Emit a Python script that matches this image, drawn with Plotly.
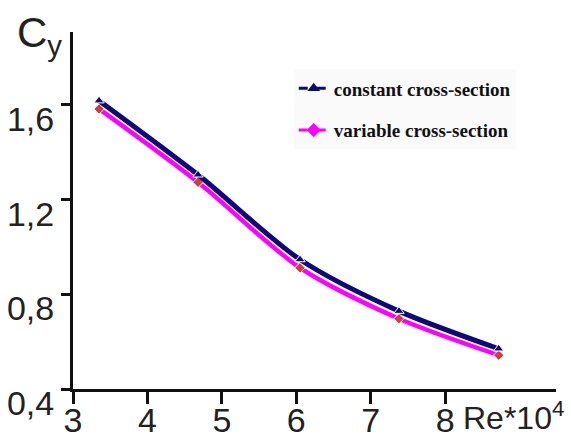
import plotly.graph_objects as go

re_values = [3.35, 4.68, 6.05, 7.38, 8.72]
cy_constant = [1.618, 1.305, 0.947, 0.729, 0.570]
cy_variable = [1.583, 1.273, 0.912, 0.697, 0.543]
x_tick_vals = [3, 4, 5, 6, 7, 8]
x_tick_text = ["3", "4", "5", "6", "7", "8"]
y_tick_vals = [0.4, 0.8, 1.2, 1.6]
y_tick_text = ["0,4", "0,8", "1,2", "1,6"]
series_names = ["constant cross-section", "variable cross-section"]

NAVY = "#0a0a78"
MAGENTA = "#ff00ff"
X_RANGE = [3, 9.49]

fig = go.Figure()

# data traces
fig.add_trace(go.Scatter(
    x=re_values, y=cy_variable, mode="lines+markers", showlegend=False,
    line=dict(color=MAGENTA, width=4.5, shape="spline", smoothing=0.8),
    marker=dict(symbol="diamond", size=8, color="#d83a3a",
                line=dict(color="white", width=1)),
))
fig.add_trace(go.Scatter(
    x=re_values, y=cy_constant, mode="lines+markers", showlegend=False,
    line=dict(color=NAVY, width=5, shape="spline", smoothing=0.8),
    marker=dict(symbol="triangle-up", size=9, color=NAVY,
                line=dict(color="white", width=1)),
))

# legend entries (dashed style as in the reference legend); placed on the
# label-only overlay axis so that axis is drawn
fig.add_trace(go.Scatter(
    x=[None], y=[None], mode="lines+markers", name=series_names[0],
    legendgroup="a", xaxis="x2",
    line=dict(color=NAVY, width=3, dash="dash"),
    marker=dict(symbol="triangle-up", size=11, color=NAVY),
))
fig.add_trace(go.Scatter(
    x=[None], y=[None], mode="lines+markers", name=series_names[1],
    legendgroup="b", xaxis="x2",
    line=dict(color=MAGENTA, width=3, dash="dash"),
    marker=dict(symbol="diamond", size=11, color=MAGENTA),
))

fig.update_layout(
    xaxis=dict(
        range=X_RANGE, tickvals=x_tick_vals, showticklabels=False,
        showgrid=False, zeroline=False, showline=True, linecolor="#111111",
        linewidth=3, ticks="outside", ticklen=12, tickwidth=2.5, tickcolor="#111111",
        automargin=False,
    ),
    xaxis2=dict(
        range=X_RANGE, overlaying="x", side="bottom", anchor="y",
        tickvals=x_tick_vals, ticktext=x_tick_text,
        tickfont=dict(family="Liberation Sans, Arial, sans-serif", size=34, color="#222222"),
        showgrid=False, zeroline=False, showline=False, ticks="",
        ticklabelstandoff=8, automargin=False,
    ),
    yaxis=dict(
        range=[0.4, 1.908], tickvals=y_tick_vals, ticktext=y_tick_text,
        showgrid=False, zeroline=False, showline=True, linecolor="#111111",
        linewidth=3, ticks="outside", ticklen=9, tickwidth=2.5, tickcolor="#111111",
        tickfont=dict(family="Liberation Sans, Arial, sans-serif", size=34, color="#222222"),
        ticklabelshift=14, ticklabelstandoff=0, automargin=False,
    ),
)

fig.add_annotation(
    xref="paper", yref="paper", x=-0.12, y=0.99, xanchor="left", yanchor="middle",
    text="C<sub>y</sub>", showarrow=False,
    font=dict(family="Liberation Sans, Arial, sans-serif", size=42, color="#222222"),
)
fig.add_annotation(
    xref="paper", yref="paper", x=0.805, y=-0.075, xanchor="left", yanchor="middle",
    text="Re*10<sup>4</sup>", showarrow=False, borderpad=0,
    font=dict(family="Liberation Sans, Arial, sans-serif", size=32, color="#222222"),
)

fig.update_layout(
    width=571, height=439,
    margin=dict(l=73, r=15, t=32, b=50, autoexpand=False),
    paper_bgcolor="white", plot_bgcolor="white",
    showlegend=True,
    legend=dict(
        x=0.457, y=0.895, xanchor="left", yanchor="top",
        bgcolor="#fafafa", borderwidth=0,
        traceorder="grouped", tracegroupgap=14,
        font=dict(family="Liberation Serif, Times New Roman, serif", size=19,
                  color="#111111", weight="bold"),
    ),
)

fig.write_html(
    "out.html",
    config={"displayModeBar": False},
    post_script="document.body.style.margin='0';document.body.style.padding='0';",
)
